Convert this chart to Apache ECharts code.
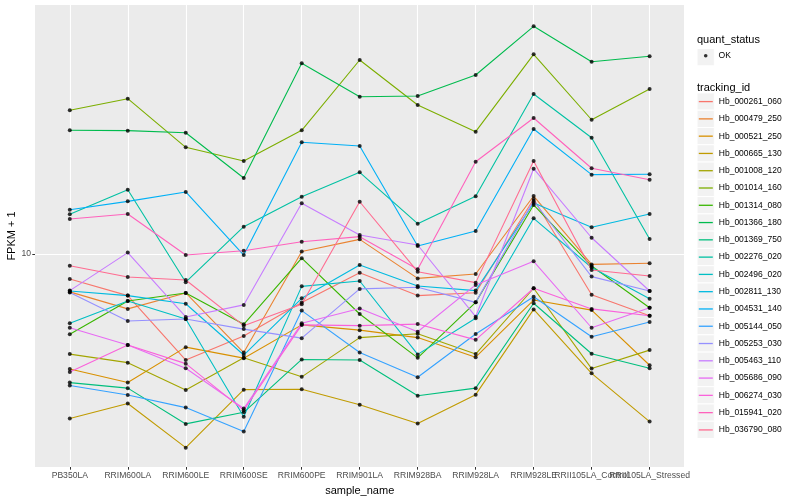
<!DOCTYPE html>
<html><head><meta charset="utf-8">
<script src="https://cdn.jsdelivr.net/npm/echarts/dist/echarts.min.js"></script>
<style>html,body{margin:0;padding:0;background:#fff}#c{width:800px;height:500px}</style>
</head><body><div id="c"></div>
<script>
// ---- data ----
const categories = ['PB350LA','RRIM600LA','RRIM600LE','RRIM600SE','RRIM600PE','RRIM901LA','RRIM928BA','RRIM928LA','RRIM928LE','RRII105LA_Control','RRII105LA_Stressed'];
const trackingIds = ['Hb_000261_060','Hb_000479_250','Hb_000521_250','Hb_000665_130','Hb_001008_120','Hb_001014_160','Hb_001314_080','Hb_001366_180','Hb_001369_750','Hb_002276_020','Hb_002496_020','Hb_002811_130','Hb_004531_140','Hb_005144_050','Hb_005253_030','Hb_005463_110','Hb_005686_090','Hb_006274_030','Hb_015941_020','Hb_036790_080'];
const quantStatus = ['OK'];
const yTicks = [10];

const Hb_000261_060 = [8.66, 7.87, 5.43, 6.24, 7.56, 8.98, 7.87, 8.00, 13.72, 7.91, 7.01];
const Hb_000479_250 = [8.04, 7.29, 7.99, 5.67, 10.14, 10.88, 8.69, 8.91, 13.96, 9.42, 9.48];
const Hb_000521_250 = [5.16, 4.77, 5.85, 5.49, 6.65, 6.45, 6.18, 5.52, 7.67, 7.24, 5.27];
const Hb_000665_130 = [3.88, 4.23, 3.28, 4.58, 4.59, 4.20, 3.77, 4.45, 7.27, 5.03, 3.81];
const Hb_001008_120 = [5.62, 5.35, 4.57, 5.50, 4.93, 6.18, 6.32, 5.62, 8.21, 5.17, 5.75];
const Hb_001014_160 = [22.87, 24.45, 18.48, 17.08, 20.38, 30.55, 23.58, 20.22, 31.57, 21.66, 25.85];
const Hb_001314_080 = [6.30, 7.63, 7.99, 6.67, 9.76, 7.08, 5.50, 7.57, 13.26, 9.33, 7.34];
const Hb_001366_180 = [20.38, 20.34, 20.10, 15.49, 29.97, 24.73, 24.83, 28.02, 37.09, 30.25, 31.21];
const Hb_001369_750 = [4.77, 4.62, 3.76, 4.02, 5.45, 5.43, 4.42, 4.62, 7.53, 5.63, 5.18];
const Hb_002276_020 = [12.57, 14.48, 8.50, 11.70, 13.91, 16.00, 11.91, 13.94, 25.12, 19.53, 10.90];
const Hb_002496_020 = [6.71, 7.63, 6.88, 3.92, 8.30, 8.56, 5.61, 6.91, 12.28, 9.25, 7.73];
const Hb_002811_130 = [8.08, 7.87, 7.51, 5.59, 7.75, 9.39, 8.32, 8.10, 13.41, 11.66, 12.59];
const Hb_004531_140 = [12.90, 13.54, 14.29, 9.94, 19.02, 18.62, 10.47, 11.42, 20.54, 15.79, 15.82];
const Hb_005144_050 = [4.69, 4.44, 4.13, 3.60, 7.22, 5.67, 4.92, 6.31, 7.82, 6.21, 6.76];
const Hb_005253_030 = [8.01, 6.80, 6.88, 6.49, 6.16, 8.18, 8.26, 7.57, 13.57, 8.78, 8.08];
const Hb_005463_110 = [8.10, 10.08, 6.96, 7.46, 13.39, 11.16, 10.53, 6.97, 16.34, 10.98, 8.08];
const Hb_005686_090 = [6.54, 5.92, 5.18, 4.11, 6.71, 7.31, 6.39, 8.37, 9.59, 6.54, 7.34];
const Hb_006274_030 = [5.07, 5.92, 5.32, 4.07, 6.65, 6.62, 6.68, 6.10, 8.21, 7.29, 7.01];
const Hb_015941_020 = [12.23, 12.59, 9.94, 10.19, 10.73, 11.05, 9.16, 17.01, 21.88, 16.38, 15.34];
const Hb_036790_080 = [9.35, 8.76, 8.61, 6.62, 7.49, 13.51, 9.03, 8.48, 17.08, 9.12, 8.81];

const seriesValues = [Hb_000261_060, Hb_000479_250, Hb_000521_250, Hb_000665_130, Hb_001008_120,
  Hb_001014_160, Hb_001314_080, Hb_001366_180, Hb_001369_750, Hb_002276_020, Hb_002496_020,
  Hb_002811_130, Hb_004531_140, Hb_005144_050, Hb_005253_030, Hb_005463_110, Hb_005686_090,
  Hb_006274_030, Hb_015941_020, Hb_036790_080];

// ---- style ----
const colors = ['#F8766D','#EA8331','#D89000','#C09B00','#A3A500','#7CAE00','#39B600','#00BB4E','#00BF7D','#00C1A3','#00BFC4','#00BAE0','#00B0F6','#35A2FF','#9590FF','#C77CFF','#E76BF3','#FA62DB','#FF62BC','#FF6C91'];
const FONT = '"Liberation Sans", Arial, Helvetica, sans-serif';
const yMin = 2.934, yMax = 41.93;

const chart = echarts.init(document.getElementById('c'), null, {renderer: 'canvas'});

const lineSeries = trackingIds.map((id, k) => ({
  type: 'line', name: id, xAxisIndex: 1, yAxisIndex: 1,
  data: seriesValues[k], showSymbol: false, symbol: 'none', smooth: false,
  lineStyle: {width: 1.1, color: colors[k]}, itemStyle: {color: colors[k]},
  emphasis: {disabled: true}, silent: true, z: 2
}));
const points = [];
seriesValues.forEach(vals => vals.forEach((v, i) => points.push([categories[i], v])));
const okSeries = {
  type: 'scatter', name: quantStatus[0], xAxisIndex: 1, yAxisIndex: 1,
  data: points, symbol: 'circle', symbolSize: 4, itemStyle: {color: '#000'},
  emphasis: {disabled: true}, silent: true, z: 3
};

// legend key backgrounds (grey95 boxes)
const keyBoxes = [{type: 'rect', shape: {x: 697, y: 48.5, width: 17.3, height: 17.3},
  style: {fill: '#F2F2F2', stroke: '#fff', lineWidth: 1}, z: -1}];
trackingIds.forEach((id, k) => keyBoxes.push({type: 'rect',
  shape: {x: 697, y: 92.9 + k * 17.28, width: 17.3, height: 17.28},
  style: {fill: '#F2F2F2', stroke: '#fff', lineWidth: 1}, z: -1}));

chart.setOption({
  animation: false,
  textStyle: {fontFamily: FONT},
  title: [
    {text: 'quant_status', left: 697, top: 34, padding: 0, textStyle: {fontSize: 11, fontWeight: 'normal', color: '#000', fontFamily: FONT}},
    {text: 'tracking_id', left: 697, top: 82, padding: 0, textStyle: {fontSize: 11, fontWeight: 'normal', color: '#000', fontFamily: FONT}}
  ],
  graphic: keyBoxes,
  grid: [
    {left: 35, top: 5, width: 649, height: 462, show: true, backgroundColor: '#EBEBEB', borderWidth: 0, containLabel: false, outerBoundsMode: 'none'},
    {left: 69.8, top: 5, width: 579.8, height: 462, show: false, containLabel: false, outerBoundsMode: 'none'}
  ],
  xAxis: [
    {gridIndex: 0, type: 'value', min: 0, max: 1, show: false},
    {gridIndex: 1, type: 'category', data: categories, boundaryGap: false,
     axisLine: {show: false},
     axisTick: {show: true, length: 2.7, alignWithLabel: true, lineStyle: {color: '#333', width: 1}},
     axisLabel: {interval: 0, color: '#4D4D4D', fontSize: 8.6, margin: 4.5, fontFamily: FONT},
     splitLine: {show: true, lineStyle: {color: '#fff', width: 1.1}},
     name: 'sample_name', nameLocation: 'middle', nameGap: 15.5,
     nameTextStyle: {fontSize: 11, color: '#000', fontFamily: FONT}}
  ],
  yAxis: [
    {gridIndex: 0, type: 'log', logBase: 10, min: yMin, max: yMax,
     axisLine: {show: false},
     axisTick: {show: true, length: 2.7, customValues: yTicks, lineStyle: {color: '#333', width: 1}},
     axisLabel: {customValues: yTicks, color: '#4D4D4D', fontSize: 8.6, margin: 4, fontFamily: FONT,
       formatter: v => String(Math.round(v))},
     splitLine: {show: true, lineStyle: {color: '#fff', width: 1.1}},
     minorSplitLine: {show: false},
     name: 'FPKM + 1', nameLocation: 'middle', nameGap: 17.5, nameRotate: 90, nameMoveOverlap: false,
     nameTextStyle: {fontSize: 11, color: '#000', fontFamily: FONT}},
    {gridIndex: 1, type: 'log', logBase: 10, min: yMin, max: yMax, show: false,
     splitLine: {show: false}}
  ],
  legend: [
    {data: [{name: quantStatus[0], icon: 'circle'}], orient: 'vertical', left: 703.9, top: 51.2,
     itemWidth: 3.6, itemHeight: 3.6, selectedMode: false, padding: 0,
     textStyle: {fontSize: 8.6, color: '#000', fontFamily: FONT, padding: [0, 0, 0, 6]}},
    {data: trackingIds.map(n => ({name: n, icon: 'rect'})), orient: 'vertical', left: 698.8, top: 95.6,
     itemWidth: 14, itemHeight: 1.3, itemGap: 5.28, selectedMode: false, padding: 0,
     textStyle: {fontSize: 8.5, color: '#000', fontFamily: FONT, lineHeight: 12, padding: [0, 0, 0, 1]}}
  ],
  series: lineSeries.concat([okSeries])
});
</script></body></html>
